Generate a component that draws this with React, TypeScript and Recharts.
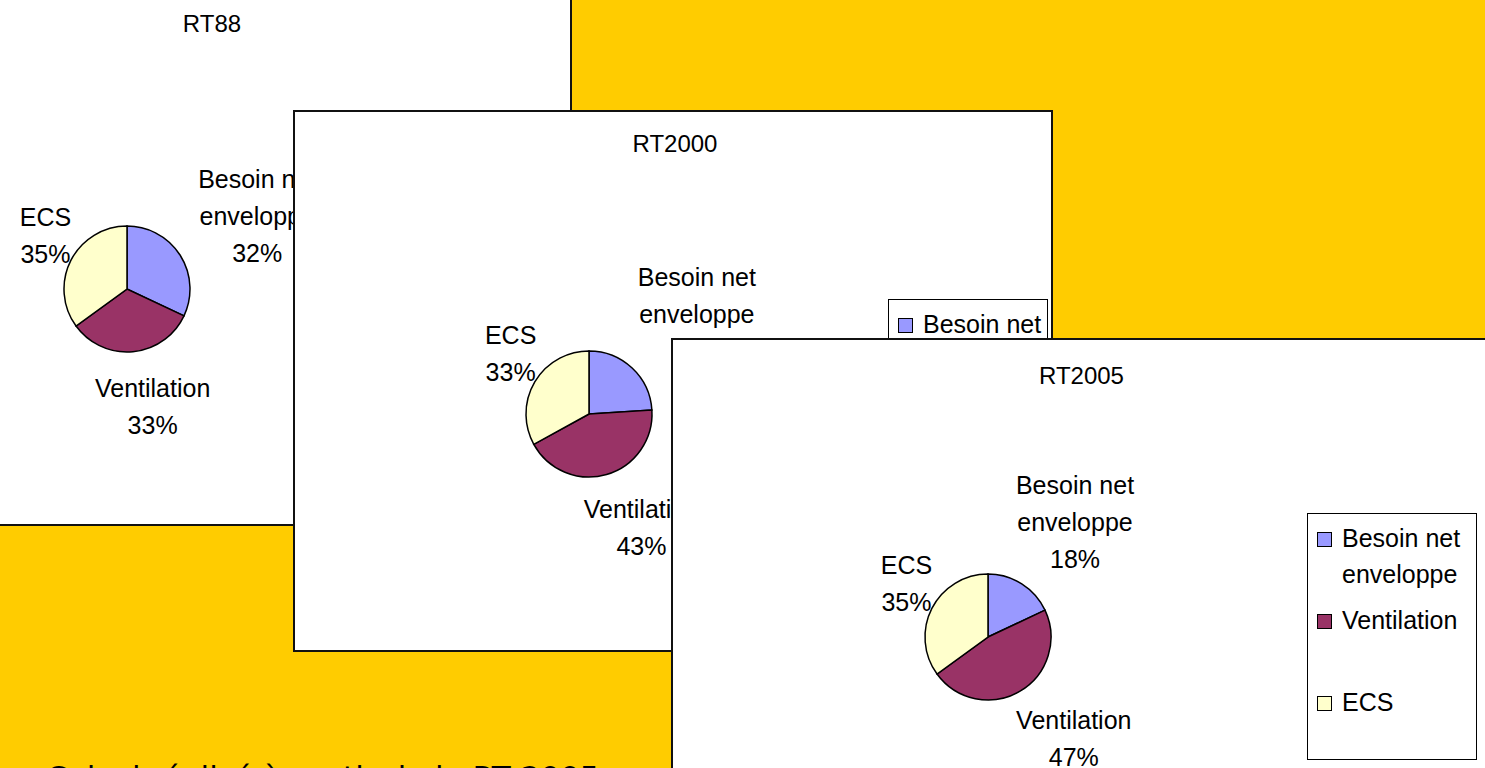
import React from 'react'
import { PieChart, Pie, Cell, Legend } from 'recharts'

// categories and colours shared by the three pies
const categories = ['Besoin net enveloppe', 'Ventilation', 'ECS']
const sliceColors = ['#9999FF', '#993366', '#FFFFCC']

// share of each item, in percent
const rt88Values = [32, 33, 35]
const rt2000Values = [24, 43, 33]
const rt2005Values = [18, 47, 35]

const bottomNote = 'Calcul réalisé à partir de la RT 2005'

const FONT = '"Liberation Sans", Arial, sans-serif'
const LINE = 37

// wrap the long category name over two lines like the original
const splitName = (name: string): string[] => {
  if (name.length <= 12) return [name]
  const cut = name.lastIndexOf(' ', 12)
  return [name.slice(0, cut), name.slice(cut + 1)]
}

const renderLabel = (props: any) => {
  const { cx, cy, midAngle, outerRadius, name, value } = props
  const lines = [...splitName(name), `${value}%`]
  const rad = Math.PI / 180
  const cos = Math.cos(midAngle * rad)
  const sin = Math.sin(midAngle * rad)
  const w = Math.max(...lines.map((l) => l.length)) * 10 + 14
  const h = lines.length * LINE
  const ax = cx + (outerRadius + 20) * cos
  const ay = cy - (outerRadius + 18) * sin
  const bx = ax + (cos * w) / 2 + 12
  const by = ay - (sin * h) / 2
  return (
    <text textAnchor='middle' fontSize={25} fontFamily={FONT} fill='#000'>
      {lines.map((l, i) => (
        <tspan key={i} x={bx} y={by - h / 2 + LINE * i + LINE / 2 + 9}>
          {l}
        </tspan>
      ))}
    </text>
  )
}

interface PanelProps {
  title: string
  values: number[]
  left: number
  top: number
  width: number
  height: number
  titleY: number
  pieCx: number
  pieCy: number
  legendLeft: number
  legendTop: number
  legendWidth: number
}

const LegendBox = ({ width }: { width: number }) => (
  <div
    style={{
      width,
      height: 247,
      boxSizing: 'border-box',
      border: '1px solid #000',
      background: '#fff',
      fontFamily: FONT,
      fontSize: 25,
      paddingTop: 6,
    }}
  >
    {categories.map((c, i) => (
      <div key={c} style={{ display: 'flex', height: 82, lineHeight: '36px' }}>
        <div
          style={{
            width: 13,
            height: 13,
            border: '1.5px solid #000',
            background: sliceColors[i],
            margin: '12px 10px 0 9px',
            flexShrink: 0,
          }}
        />
        <div>
          {splitName(c).map((l) => (
            <div key={l}>{l}</div>
          ))}
        </div>
      </div>
    ))}
  </div>
)

const Panel: React.FC<PanelProps> = (p) => {
  const data = categories.map((name, i) => ({ name, value: p.values[i] }))
  return (
    <div
      style={{
        position: 'absolute',
        left: p.left,
        top: p.top,
        width: p.width,
        height: p.height,
        background: '#fff',
        border: '2px solid #111',
        boxSizing: 'border-box',
      }}
    >
      <div
        style={{
          position: 'absolute',
          left: 0,
          width: p.width,
          top: p.titleY - 14,
          lineHeight: '28px',
          textAlign: 'center',
          fontFamily: FONT,
          fontSize: 24,
        }}
      >
        {p.title}
      </div>
      <PieChart width={p.width - 4} height={p.height - 4} margin={{ top: 0, right: 0, bottom: 0, left: 0 }}>
        <Pie
          data={data}
          dataKey='value'
          nameKey='name'
          cx={p.pieCx}
          cy={p.pieCy}
          outerRadius={63}
          startAngle={90}
          endAngle={-270}
          stroke='#000'
          strokeWidth={1.5}
          label={renderLabel}
          labelLine={false}
          isAnimationActive={false}
        >
          {data.map((d, i) => (
            <Cell key={d.name} fill={sliceColors[i]} />
          ))}
        </Pie>
        <Legend
          layout='vertical'
          align='right'
          verticalAlign='middle'
          wrapperStyle={{ left: p.legendLeft, top: p.legendTop, width: p.legendWidth }}
          content={() => <LegendBox width={p.legendWidth} />}
        />
      </PieChart>
    </div>
  )
}

export default function App() {
  return (
    <div
      style={{
        position: 'fixed',
        left: 0,
        top: 0,
        width: 1485,
        height: 768,
        overflow: 'hidden',
        background: '#FFCC00',
      }}
    >
      <div
        style={{
          position: 'absolute',
          left: 46,
          top: 762,
          fontFamily: '"DejaVu Sans", sans-serif',
          fontSize: 31,
          lineHeight: '31px',
          whiteSpace: 'nowrap',
        }}
      >
        {bottomNote}
      </div>
      <Panel
        title='RT88'
        values={rt88Values}
        left={-152}
        top={-10}
        width={724}
        height={536}
        titleY={32}
        pieCx={277}
        pieCy={297}
        legendLeft={560}
        legendTop={189}
        legendWidth={160}
      />
      <Panel
        title='RT2000'
        values={rt2000Values}
        left={293}
        top={110}
        width={760}
        height={542}
        titleY={32}
        pieCx={294}
        pieCy={302}
        legendLeft={593}
        legendTop={187}
        legendWidth={160}
      />
      <Panel
        title='RT2005'
        values={rt2005Values}
        left={671}
        top={338}
        width={817}
        height={542}
        titleY={36}
        pieCx={315}
        pieCy={297}
        legendLeft={634}
        legendTop={173}
        legendWidth={170}
      />
    </div>
  )
}
